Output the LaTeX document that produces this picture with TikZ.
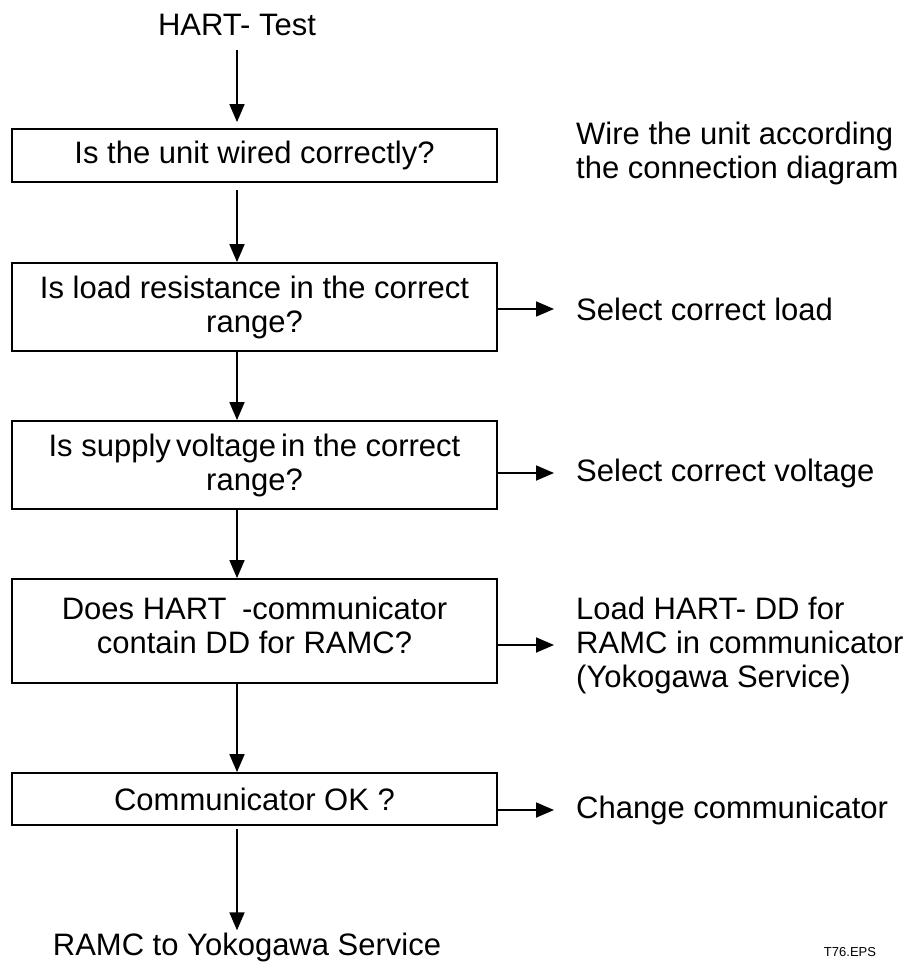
\documentclass[tikz,border=0pt]{standalone}
\usepackage{fontspec}
\setmainfont{Liberation Sans}
\usetikzlibrary{arrows.meta}

\begin{document}
\begin{tikzpicture}[x=1pt, y=-1pt, font=\fontsize{31}{34}\selectfont,
  box/.style={draw, line width=1.8pt, minimum width=485pt, inner sep=0pt, align=center},
  note/.style={anchor=west, inner sep=0pt, align=left},
  arr/.style={line width=1.8pt, -{Triangle[length=18pt, width=15pt]}}]
\useasboundingbox (0,0) rectangle (907,963);
\node[inner sep=2pt] (start) at (237,25) {HART- Test};
\node[box, minimum height=53pt] (q1) at (254.5,155.5) {Is the unit wired correctly?};
\node[box, minimum height=88pt] (q2) at (254.5,307) {Is load resistance in the correct\\range?};
\node[box, minimum height=88pt] (q3) at (254.5,465) {Is supply\,voltage\,in the correct\\range?};
\node[box, minimum height=104pt] (q4) at (254.5,631) {Does HART\enspace-communicator\\contain DD for RAMC?\\[-22pt]};
\node[box, minimum height=52pt] (q5) at (254.5,799) {Communicator OK ?};
\node[inner sep=2pt] (stop) at (247,947) {RAMC to Yokogawa Service};
% answers on the right
\node[note] (r1) at (576,153.5) {Wire the unit according\\the connection diagram};
\node[note] (r2) at (576,309) {Select correct load};
\node[note] (r3) at (576,473) {Select correct voltage};
\node[note] (r4) at (576,645) {Load HART- DD for\\RAMC in communicator\\(Yokogawa Service)};
\node[note] (r5) at (576,810) {Change communicator};
\node[font=\fontsize{13}{15}\selectfont] (tag) at (850,952) {T76.EPS};
% main line
\draw[arr, shorten <=12pt, shorten >=6pt] (start) -- (start |- q1.north);
\draw[arr, shorten <=7pt] (q1.south -| start) -- (q2.north -| start);
\draw[arr] (q2.south -| start) -- (q3.north -| start);
\draw[arr] (q3.south -| start) -- (q4.north -| start);
\draw[arr] (q4.south -| start) -- (q5.north -| start);
\draw[arr, shorten <=3pt] (q5.south -| start) -- (stop.north -| start);
% no branches
\draw[arr, shorten >=22pt] (q2.east |- r2.west) -- (r2.west);
\draw[arr, shorten >=22pt] (q3.east |- r3.west) -- (r3.west);
\draw[arr, shorten >=22pt] (q4.east |- r4.west) -- (r4.west);
\draw[arr, shorten >=22pt] (q5.east |- r5.west) -- (r5.west);
\end{tikzpicture}
\end{document}
